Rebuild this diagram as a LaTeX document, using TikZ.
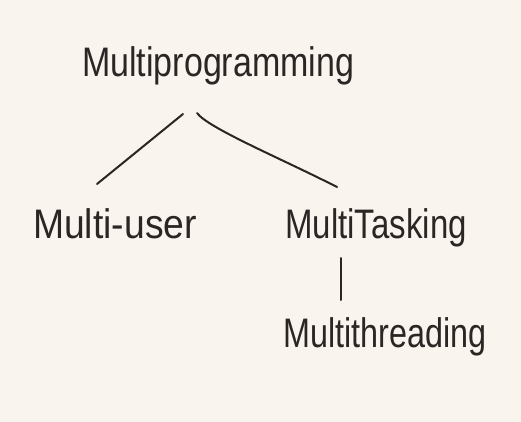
\documentclass[tikz,border=0pt]{standalone}
\usepackage{fontspec}
\usepackage{graphicx}
\setmainfont{Liberation Sans}
\definecolor{paper}{HTML}{FAF4EF}
\definecolor{ink}{HTML}{2B2623}
\newcommand{\handtext}[2]{\scalebox{#1}[1.25]{#2}}
\begin{document}
\begin{tikzpicture}[x=1pt,y=-1pt,
  lbl/.style={anchor=base west,inner sep=0pt,text=ink,font=\fontsize{33}{36}\selectfont},
  link/.style={draw=ink,line width=2pt,line cap=round}]
\fill[paper] (0,0) rectangle (521,422);
\useasboundingbox (0,0) rectangle (521,422);
\node[lbl] (mp) at (82,77) {\handtext{1.03}{Multiprogramming}};
\node[lbl] (mu) at (33,238) {\handtext{1.13}{Multi-user}};
\node[lbl] (mt) at (285,238) {\handtext{1.0}{MultiTasking}};
\node[lbl] (mth) at (283,347) {\handtext{0.98}{Multithreading}};
\coordinate (a1) at (183,114);
\coordinate (a2) at (97,184);
\coordinate (b1) at (197,113);
\coordinate (b2) at (337,187);
\coordinate (c1) at (341,258);
\coordinate (c2) at (341,300);
\draw[link] (a1) -- (a2);
\draw[link] (b1) .. controls (208,128) and (280,158) .. (b2);
\draw[link] (c1) -- (c2);
\end{tikzpicture}
\end{document}
